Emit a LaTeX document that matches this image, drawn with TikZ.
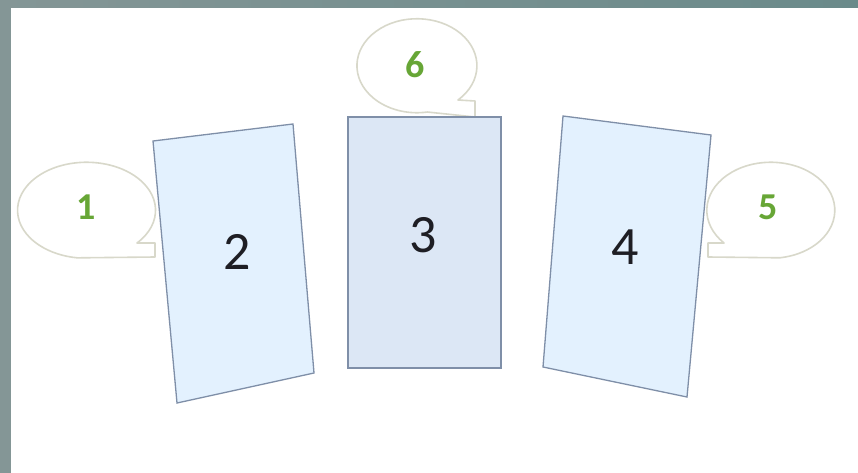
\documentclass[tikz,border=0pt]{standalone}
\usepackage{fontspec}
\setmainfont{Carlito}
\definecolor{frametop}{HTML}{6A8A8A}
\definecolor{frameleft}{HTML}{849696}
\definecolor{callline}{HTML}{D8D8CA}
\definecolor{numgreen}{HTML}{67A636}
\definecolor{boxline}{HTML}{7F8FA8}
\definecolor{boxfill}{HTML}{E3F1FE}
\definecolor{boxfillmid}{HTML}{DCE7F5}
\definecolor{numdark}{HTML}{1E1E24}
\begin{document}
\begin{tikzpicture}[x=1pt,y=-1pt,
  callout/.style={draw=callline,line width=1.6pt,fill=white,line join=round},
  panel/.style={draw=boxline,line width=1.3pt},
  greennum/.style={text=numgreen,font=\fontsize{38}{38}\selectfont\bfseries,inner sep=0pt},
  darknum/.style={text=numdark,font=\fontsize{54}{54}\selectfont,inner sep=0pt}]
\useasboundingbox (0,0) rectangle (858,473);
% frame
\shade[left color=frameleft,right color=frametop] (0,0) rectangle (858,8);
\fill[frameleft] (0,8) rectangle (11,473);
\fill[white] (11,8) rectangle (858,473);

% callout 1
\draw[callout] (137,243) arc[start angle=43,end angle=-262.4,x radius=69,y radius=48]
  -- (155,257) -- (155,243) -- cycle;
% callout 5
\draw[callout] (724,243) arc[start angle=137,end angle=442,x radius=64,y radius=48]
  -- (708,257) -- (708,243) -- cycle;
% callout 6
\draw[callout] (458,100) arc[start angle=46.8,end angle=-280,x radius=60,y radius=47]
  -- (475,117) -- (475,101) -- cycle;

% panels
\draw[panel,fill=boxfill] (153,141) -- (293,124) -- (314,373) -- (177,403) -- cycle;
\draw[panel,fill=boxfillmid] (348,117) rectangle (501,368);
\draw[panel,fill=boxfill] (563,116) -- (711,135) -- (687,397) -- (543,367) -- cycle;

% labels
\node[greennum] (n1) at (86,207) {1};
\node[greennum] (n6) at (415,65) {6};
\node[greennum] (n5) at (768,207) {5};
\node[darknum] (n2) at (237,252) {2};
\node[darknum] (n3) at (423,235) {3};
\node[darknum] (n4) at (625,247) {4};
\end{tikzpicture}
\end{document}
